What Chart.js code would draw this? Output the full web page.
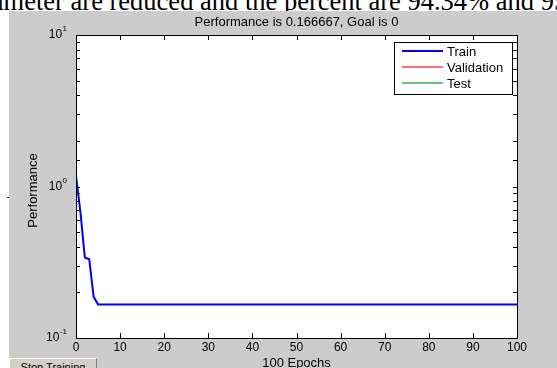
<!DOCTYPE html>
<html>
<head>
<meta charset="utf-8">
<title>Performance</title>
<script src="https://cdn.jsdelivr.net/npm/chart.js@4.4.0/dist/chart.umd.min.js"></script>
<style>
  html, body { margin: 0; padding: 0; background: #fff; overflow: hidden; }
  body { width: 557px; height: 368px; position: relative; }
  #doc-text { position: absolute; left: 0; top: 0; width: 557px; height: 11px; overflow: hidden; }
  #doc-text span { position: absolute; left: -42px; top: -12px; font: 26.5px "Liberation Serif", serif; line-height: 26px; white-space: nowrap; color: #000; }
  #panel { position: absolute; left: 9px; top: 11px; right: 0; bottom: 0; background: #cccccc; }
  #stop { position: absolute; left: 9px; top: 358px; width: 86px; height: 16px; background: #d4d0c8;
          border-top: 1px solid #fff; border-left: 1px solid #fff; border-right: 1px solid #808080;
          font: 11px "Liberation Sans", Arial, sans-serif; text-align: center; line-height: 16px; color: #000; }
  #dot { position: absolute; left: 7px; top: 197px; width: 2px; height: 1px; background: #333; }
  #perfChart { position: absolute; left: 0; top: 0; }
</style>
</head>
<body>
<div id="doc-text"><span>parameter are reduced and the percent are 94.34% and 95.28%</span></div>
<div id="panel"></div>
<div id="dot"></div>
<div id="stop">Stop Training</div>
<canvas id="perfChart" width="557" height="368"></canvas>

<script>
// data
const epochs = [0, 1, 2, 3, 4, 5, 100];
const trainPerf = [1.17, 0.68, 0.34, 0.331, 0.187, 0.1667, 0.1667];
const seriesNames = ['Train', 'Validation', 'Test'];
const seriesColors = ['#0000ff', '#ff7070', '#70c070'];
const xTickStep = 10;
const yPowers = [-1, 0, 1];

const titleText = 'Performance is 0.166667, Goal is 0';
const xTitle = '100 Epochs';
const yTitle = 'Performance';
const FONT = '"Liberation Sans", Arial, sans-serif';

// MATLAB style box, inward ticks, labels and legend
const matlabAxes = {
  id: 'matlabAxes',
  beforeDraw(chart) {
    const { ctx, chartArea: a } = chart;
    ctx.save();
    ctx.fillStyle = '#fff';
    ctx.fillRect(a.left, a.top, a.right - a.left, a.bottom - a.top);
    ctx.restore();
  },
  afterDraw(chart) {
    const { ctx, chartArea: a, scales: { x, y } } = chart;
    ctx.save();
    ctx.strokeStyle = '#000';
    ctx.lineWidth = 1;
    ctx.strokeRect(a.left + 0.5, a.top + 0.5, a.right - a.left, a.bottom - a.top);

    ctx.beginPath();
    x.ticks.forEach(t => {
      const px = Math.round(x.getPixelForValue(t.value)) + 0.5;
      ctx.moveTo(px, a.bottom); ctx.lineTo(px, a.bottom - 5);
      ctx.moveTo(px, a.top); ctx.lineTo(px, a.top + 5);
    });
    y.ticks.forEach(t => {
      const py = Math.round(y.getPixelForValue(t.value)) + 0.5;
      ctx.moveTo(a.left, py); ctx.lineTo(a.left + 4, py);
      ctx.moveTo(a.right, py); ctx.lineTo(a.right - 4, py);
    });
    ctx.stroke();

    // y labels 10^n
    ctx.fillStyle = '#000';
    yPowers.forEach(p => {
      const py = y.getPixelForValue(Math.pow(10, p));
      const exp = String(p);
      ctx.font = '8px ' + FONT;
      const ew = ctx.measureText(exp).width;
      const right = a.left - 9;
      ctx.textAlign = 'left';
      ctx.textBaseline = 'middle';
      ctx.fillText(exp, right - ew, py - 6);
      ctx.font = '12px ' + FONT;
      ctx.textAlign = 'right';
      ctx.fillText('10', right - ew - 0.5, py);
    });

    // titles
    ctx.font = '13px ' + FONT;
    ctx.textAlign = 'center';
    ctx.textBaseline = 'middle';
    const cx = (a.left + a.right) / 2;
    ctx.fillText(titleText, cx, 22);
    ctx.fillText(xTitle, cx, 363);
    ctx.save();
    ctx.translate(33, (a.top + a.bottom) / 2 + 4);
    ctx.rotate(-Math.PI / 2);
    ctx.fillText(yTitle, 0, 0);
    ctx.restore();

    // legend box
    const lx = 394, ly = 42, lw = 118, lh = 52;
    ctx.fillStyle = '#fff';
    ctx.fillRect(lx, ly, lw, lh);
    ctx.strokeStyle = '#000';
    ctx.strokeRect(lx + 0.5, ly + 0.5, lw, lh);
    chart.data.datasets.forEach((ds, i) => {
      const ry = ly + 9 + i * 16;
      ctx.strokeStyle = ds.borderColor;
      ctx.lineWidth = 2;
      ctx.beginPath();
      ctx.moveTo(lx + 8, ry); ctx.lineTo(lx + 49, ry);
      ctx.stroke();
      ctx.fillStyle = '#000';
      ctx.textAlign = 'left';
      ctx.fillText(ds.label, lx + 53, ry + 1);
    });
    ctx.restore();
  }
};

const ctx = document.getElementById('perfChart').getContext('2d');
const myChart = new Chart(ctx, {
  type: 'line',
  data: {
    datasets: seriesNames.map((name, i) => ({
      label: name,
      data: i === 0 ? epochs.map((e, k) => ({ x: e, y: trainPerf[k] })) : [],
      borderColor: seriesColors[i],
      borderWidth: 2,
      pointRadius: 0,
      tension: 0,
      fill: false
    }))
  },
  options: {
    responsive: false,
    animation: false,
    layout: { padding: { left: 0, top: 35, right: 40, bottom: 0 } },
    plugins: { legend: { display: false }, title: { display: false }, tooltip: { enabled: false } },
    scales: {
      x: {
        type: 'linear',
        min: 0,
        max: 100,
        border: { display: false },
        grid: { display: true, drawOnChartArea: false, drawTicks: false },
        ticks: { stepSize: xTickStep, padding: 2, color: '#000', font: { family: FONT, size: 12 } },
        afterFit: s => { s.height = 30; }
      },
      y: {
        type: 'logarithmic',
        min: 0.1,
        max: 10,
        border: { display: false },
        grid: { display: false },
        ticks: { display: false, autoSkip: false },
        afterFit: s => { s.width = 76; }
      }
    }
  },
  plugins: [matlabAxes]
});
</script>
</body>
</html>
